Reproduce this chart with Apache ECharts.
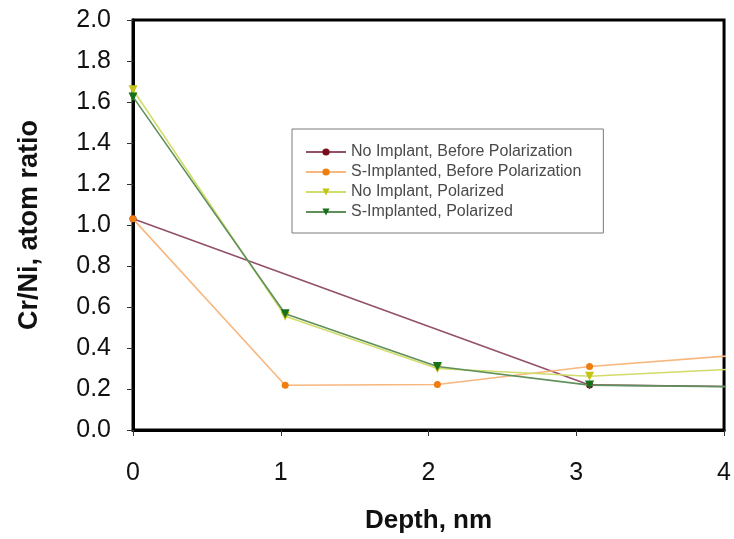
<!DOCTYPE html>
<html>
<head>
<meta charset="utf-8">
<script src="https://cdn.jsdelivr.net/npm/echarts@6/dist/echarts.min.js"></script>
<style>
  html, body { margin: 0; padding: 0; background: #ffffff; }
  #chart { width: 734px; height: 539px; }
</style>
</head>
<body>
<div id="chart"></div>
<script>
// Cr/Ni atom ratio versus depth for four surface conditions
const depthPoints = [0, 1.03, 2.06, 3.09, 4.12];

const seriesNames = [
  'No Implant, Before Polarization',
  'S-Implanted, Before Polarization',
  'No Implant, Polarized',
  'S-Implanted, Polarized'
];

// Ratio values per depth point (null where no measurement was taken)
const noImplantBefore = [1.03, null, null, 0.22, 0.211];
const sImplantedBefore = [1.03, 0.218, 0.222, 0.31, 0.366];
const noImplantPolarized = [1.66, 0.555, 0.30, 0.262, 0.299];
const sImplantedPolarized = [1.625, 0.567, 0.31, 0.219, 0.211];

const xTicks = [0, 1, 2, 3, 4];
const yTicks = [0, 0.2, 0.4, 0.6, 0.8, 1.0, 1.2, 1.4, 1.6, 1.8, 2.0];

const downTriangle = 'path://M0,0 L10,0 L5,9 Z';

function pairs(values) {
  const out = [];
  values.forEach((v, i) => { if (v !== null) out.push([depthPoints[i], v]); });
  return out;
}

const styles = [
  { line: '#93506a', mark: '#7a0c1c', symbol: 'circle', size: 7 },
  { line: '#f7b77e', mark: '#f07d12', symbol: 'circle', size: 7 },
  { line: '#d2dc6a', mark: '#c4c416', symbol: downTriangle, size: 9 },
  { line: '#5f8f5a', mark: '#17701a', symbol: downTriangle, size: 9 }
];
const valueSets = [noImplantBefore, sImplantedBefore, noImplantPolarized, sImplantedPolarized];

const chart = echarts.init(document.getElementById('chart'), null, { renderer: 'canvas' });

chart.setOption({
  backgroundColor: '#ffffff',
  animation: false,
  grid: {
    left: 133, top: 20, right: 5, bottom: 104,
    show: true, borderColor: '#000000', borderWidth: 3, backgroundColor: 'transparent'
  },
  legend: {
    orient: 'vertical',
    left: 292, top: 129,
    padding: [15, 22, 13, 13],
    itemGap: 4,
    itemWidth: 40,
    itemHeight: 9,
    borderColor: '#7a7a7a',
    borderWidth: 1,
    backgroundColor: '#ffffff',
    textStyle: { fontFamily: 'Liberation Sans', fontSize: 16, color: '#4a4a4a' },
    data: seriesNames
  },
  xAxis: {
    type: 'value',
    min: 0, max: 4, interval: 1,
    name: 'Depth, nm',
    nameLocation: 'middle',
    nameGap: 78,
    nameTextStyle: { fontFamily: 'Liberation Sans', fontWeight: 'bold', fontSize: 26, color: '#111111' },
    axisLine: { show: true, onZero: false, lineStyle: { color: '#000000', width: 3 } },
    axisTick: { show: true, inside: false, length: 6, lineStyle: { color: '#333333', width: 1 } },
    axisLabel: {
      margin: 31, fontFamily: 'Liberation Sans', fontSize: 25, color: '#111111',
      formatter: v => (xTicks.includes(v) ? String(v) : '')
    },
    splitLine: { show: false }
  },
  yAxis: {
    type: 'value',
    min: 0, max: 2, interval: 0.2,
    name: 'Cr/Ni, atom ratio',
    nameLocation: 'middle',
    nameGap: 90,
    nameRotate: 90,
    nameTextStyle: { fontFamily: 'Liberation Sans', fontWeight: 'bold', fontSize: 27, color: '#111111' },
    axisLine: { show: true, onZero: false, lineStyle: { color: '#000000', width: 3 } },
    axisTick: { show: true, inside: false, length: 6, lineStyle: { color: '#333333', width: 1 } },
    axisLabel: {
      margin: 22, fontFamily: 'Liberation Sans', fontSize: 25, color: '#111111',
      formatter: v => {
        const t = yTicks.find(k => Math.abs(k - v) < 1e-6);
        return t === undefined ? '' : t.toFixed(1);
      }
    },
    splitLine: { show: false }
  },
  series: seriesNames.map((name, i) => ({
    name: name,
    type: 'line',
    data: pairs(valueSets[i]),
    clip: true,
    symbol: styles[i].symbol,
    symbolSize: styles[i].size,
    showAllSymbol: true,
    lineStyle: { color: styles[i].line, width: 1.6 },
    itemStyle: { color: styles[i].mark },
    emphasis: { disabled: true },
    z: 2 + i
  }))
});
</script>
</body>
</html>
